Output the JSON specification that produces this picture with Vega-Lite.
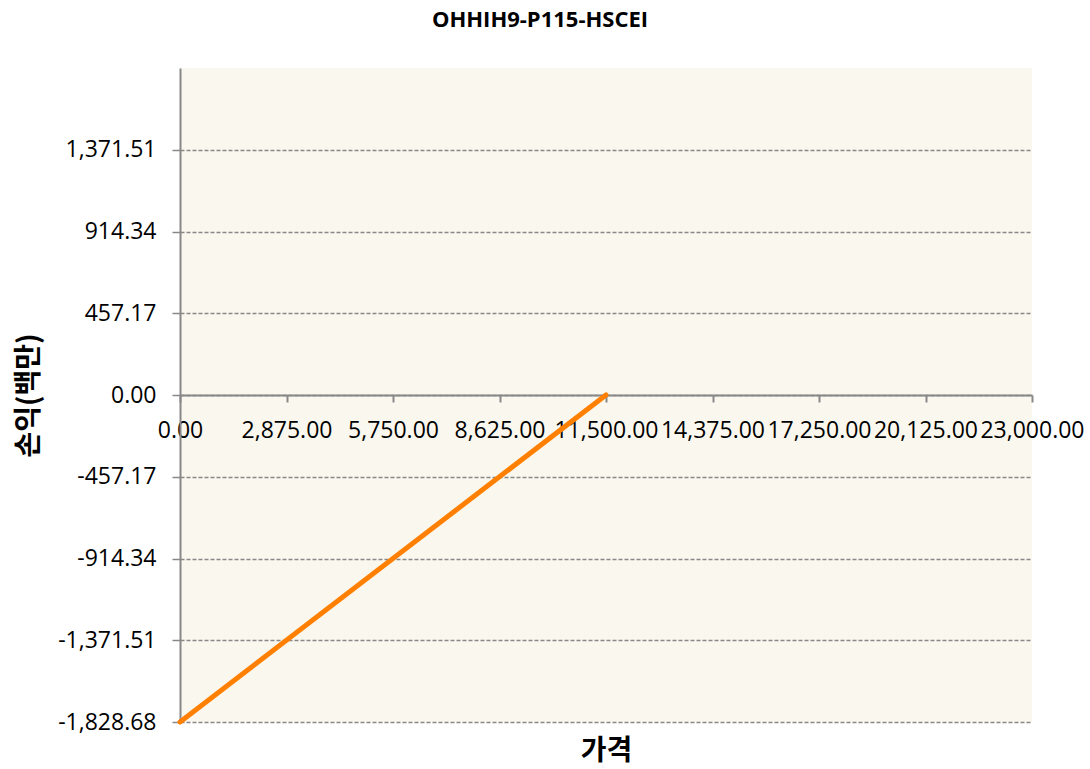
{
  "$schema": "https://vega.github.io/schema/vega-lite/v6.json",
  "width": 852,
  "height": 654,
  "autosize": {"type": "none"},
  "padding": {"left": 180, "top": 68, "right": 58, "bottom": 47},
  "background": "white",
  "title": {
    "text": "OHHIH9-P115-HSCEI",
    "font": "Open Sans",
    "fontSize": 22,
    "fontWeight": "bold",
    "color": "#000000",
    "anchor": "middle",
    "dx": -66,
    "offset": 36
  },
  "view": {"fill": "#FAF7EE", "stroke": null},
  "data": {
    "values": [
      {"price": 0, "pnl": -1828.68},
      {"price": 11500, "pnl": 0}
    ]
  },
  "mark": {"type": "line", "color": "#FF8000", "strokeWidth": 5, "strokeCap": "round"},
  "encoding": {
    "x": {
      "field": "price",
      "type": "quantitative",
      "scale": {"domain": [0, 23000], "nice": false, "zero": false},
      "axis": {
        "title": "가격",
        "titleFont": "Noto Sans CJK KR",
        "titleFontSize": 28,
        "titleFontWeight": "bold",
        "titleColor": "#000000",
        "titleY": 356,
        "titleBaseline": "middle",
        "offset": -327,
        "values": [0, 2875, 5750, 8625, 11500, 14375, 17250, 20125, 23000],
        "format": ",.2f",
        "labelExpr": "replace(datum.label, '−', '-')",
        "labelFont": "Open Sans",
        "labelFontSize": 23,
        "labelColor": "#000000",
        "labelOverlap": false,
        "labelBound": false,
        "labelFlush": false,
        "labelPadding": 17,
        "tickSize": 7,
        "tickColor": "#888888",
        "tickWidth": 2,
        "domainColor": "#888888",
        "domainWidth": 2,
        "grid": false
      }
    },
    "y": {
      "field": "pnl",
      "type": "quantitative",
      "scale": {"domain": [-1828.68, 1828.68], "nice": false, "zero": false},
      "axis": {
        "title": "손익(백만)",
        "titleFont": "Noto Sans CJK KR",
        "titleFontSize": 28,
        "titleFontWeight": "bold",
        "titleColor": "#000000",
        "titleX": -151,
        "titleBaseline": "middle",
        "values": [-1828.68, -1371.51, -914.34, -457.17, 0, 457.17, 914.34, 1371.51],
        "format": ",.2f",
        "labelExpr": "replace(datum.label, '−', '-')",
        "labelFont": "Open Sans",
        "labelFontSize": 23,
        "labelColor": "#000000",
        "labelOverlap": false,
        "labelBound": false,
        "labelFlush": false,
        "labelPadding": 16,
        "tickSize": 8,
        "tickColor": "#888888",
        "tickWidth": 1.5,
        "domainColor": "#888888",
        "domainWidth": 2,
        "grid": true,
        "gridColor": "#888888",
        "gridWidth": 1.5,
        "gridDash": [4, 2]
      }
    }
  }
}
